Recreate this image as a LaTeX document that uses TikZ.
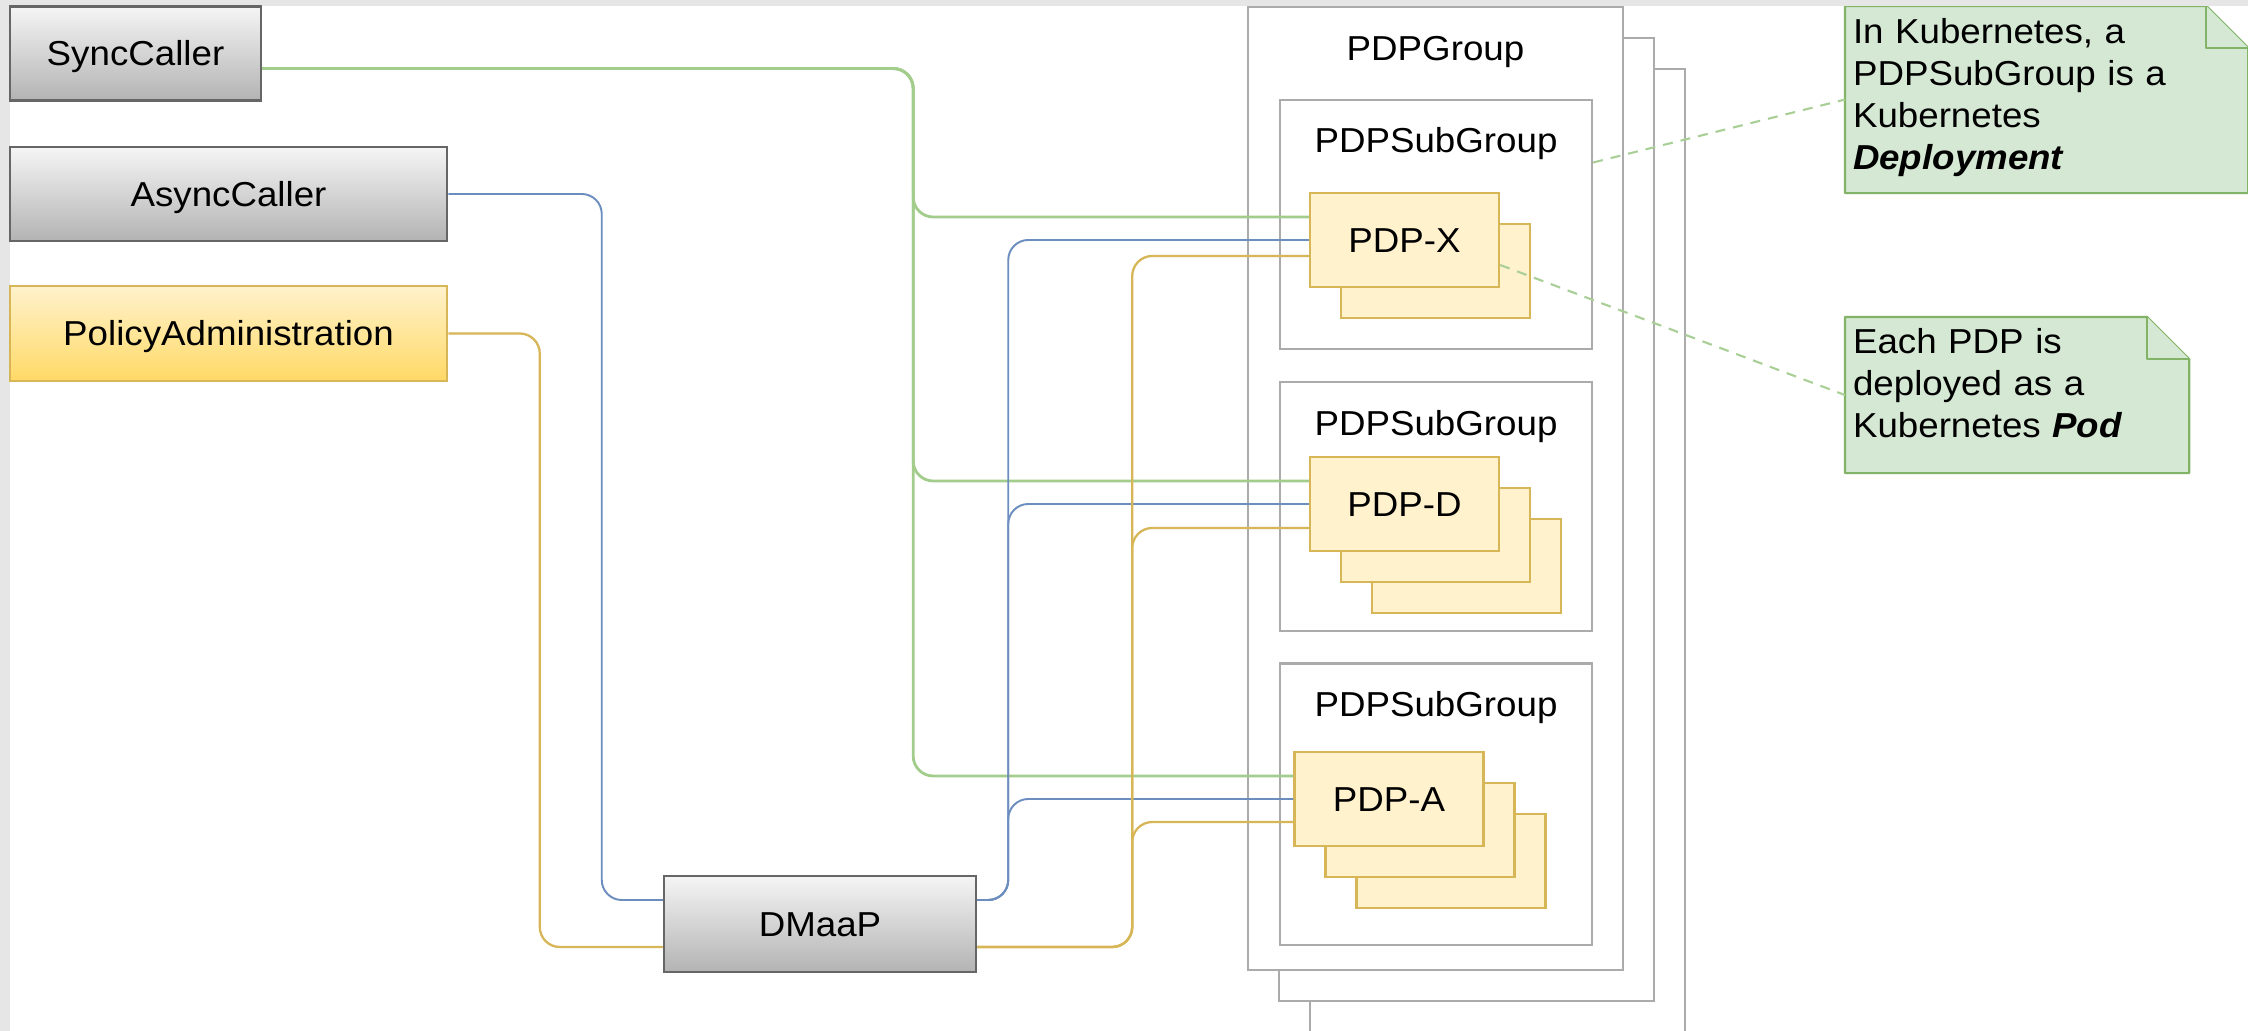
\documentclass[tikz,border=0pt]{standalone}
\usepackage{fontspec}
\setmainfont{Liberation Sans}[FakeStretch=1.06]
\usepackage{xcolor}
\usetikzlibrary{positioning,calc,shadows,backgrounds}

\definecolor{framegrey}{HTML}{E6E6E6}
\definecolor{callertop}{HTML}{F5F5F5}
\definecolor{callerbottom}{HTML}{B3B3B3}
\definecolor{callerline}{HTML}{666666}
\definecolor{admintop}{HTML}{FFF2CC}
\definecolor{adminbottom}{HTML}{FFD966}
\definecolor{adminline}{HTML}{D6B656}
\definecolor{pdpfill}{HTML}{FFF2CC}
\definecolor{pdpline}{HTML}{D6B656}
\definecolor{grpline}{HTML}{ABABAB}
\definecolor{notefill}{HTML}{D5E8D4}
\definecolor{noteline}{HTML}{82B366}
\definecolor{syncgreen}{HTML}{A3CD8C}
\definecolor{asyncblue}{HTML}{6C8EBF}
\definecolor{adminyellow}{HTML}{D6B656}
\definecolor{linkgreen}{HTML}{A9CF96}

\newcommand{\diagfont}{\fontsize{9.85pt}{11.95pt}\selectfont}

\begin{document}
\begin{tikzpicture}[x=0.01cm, y=-0.01cm,
    box/.style={draw, line width=0.65pt, inner sep=0pt, text height=0.24cm, text depth=0pt, font=\diagfont},
    caller/.style={box, draw=callerline, top color=callertop, bottom color=callerbottom, minimum height=0.94cm},
    admin/.style={box, draw=adminline, top color=admintop, bottom color=adminbottom, minimum height=0.95cm},
    pdp/.style={box, draw=pdpline, fill=pdpfill, minimum width=1.89cm, minimum height=0.94cm},
    group/.style={draw=grpline, fill=white, line width=0.6pt, inner sep=0pt, minimum width=3.12cm},
    grpcopy/.style={general shadow={shadow xshift=#1, shadow yshift=-#1, draw=grpline, fill=white, line width=0.6pt}},
    pdpcopy/.style={general shadow={shadow xshift=#1, shadow yshift=-#1, draw=pdpline, fill=pdpfill, line width=0.65pt}},
    lbl/.style={font=\diagfont, inner sep=0pt},
    note/.style={anchor=north west, align=left, inner xsep=0.08cm, inner ysep=0.12cm, outer sep=0pt, font=\diagfont},
    notebox/.style={draw=noteline, fill=notefill, line width=0.6pt, line join=round},
    wire/.style={rounded corners=0.2cm},
    syncwire/.style={wire, draw=syncgreen, line width=0.8pt},
    asyncwire/.style={wire, draw=asyncblue, line width=0.55pt},
    adminwire/.style={wire, draw=adminyellow, line width=0.65pt},
    notelink/.style={draw=linkgreen, line width=0.6pt, dash pattern=on 0.1cm off 0.08cm}]
    \useasboundingbox (0,0) rectangle (2248,1031);

    % grey strip along the top and left
    \fill[framegrey] (0,0) rectangle (2248,6);
    \fill[framegrey] (0,0) rectangle (10,1031);

    % callers and the bus
    \node[caller, minimum width=2.51cm] (sync) at (135.5,53.5) {SyncCaller};
    \node[caller, minimum width=4.37cm] (async) at (228.5,194) {AsyncCaller};
    \node[admin, minimum width=4.37cm] (padmin) at (228.5,333.5) {PolicyAdministration};
    \node[caller, minimum width=3.12cm, minimum height=0.96cm] (dmaap) at (820,924) {DMaaP};

    % PDP group, three subgroups
    \node[group, grpcopy=0.62cm, grpcopy=0.31cm, minimum width=3.75cm, minimum height=9.63cm] (grp) at (1435.5,488.5) {};
    \node[lbl, anchor=base] (grplbl) at ($(grp.north)+(0,55)$) {PDPGroup};
    \node[group, minimum height=2.49cm] (sub1) at (1436,224.5) {};
    \node[group, minimum height=2.49cm] (sub2) [below=0.31cm of sub1] {};
    \node[group, minimum height=2.81cm] (sub3) [below=0.30cm of sub2] {};
    \foreach \s in {sub1,sub2,sub3}
        \node[lbl, anchor=base] (\s-lbl) at ($(\s.north)+(0,54)$) {PDPSubGroup};

    % PDP pods
    \node[pdp, pdpcopy=0.31cm] (pdpx) at (1404.5,240) {PDP-X};
    \node[pdp, pdpcopy=0.62cm, pdpcopy=0.31cm] (pdpd) at (1404.5,504) {PDP-D};
    \node[pdp, pdpcopy=0.62cm, pdpcopy=0.31cm] (pdpa) at (1389,799) {PDP-A};

    % notes
    \node[note, text width=3.87cm, text height=0.25cm, text depth=1.38cm] (note1) at (1845,6)
        {In Kubernetes, a\\PDPSubGroup is a\\Kubernetes\\\textbf{\textit{Deployment}}};
    \node[note, text width=3.28cm, text height=0.24cm, text depth=1.08cm] (note2) at (1845,317)
        {Each PDP is\\deployed as a\\Kubernetes \textbf{\textit{Pod}}};
    \begin{scope}[on background layer]
        \foreach \nt in {note1,note2} {
            \filldraw[notebox] (\nt.south west) -- (\nt.north west) -- ($(\nt.north east)+(-42,0)$)
                -- ($(\nt.north east)+(0,42)$) -- (\nt.south east) -- cycle;
            \filldraw[notebox] ($(\nt.north east)+(-42,0)$) |- ($(\nt.north east)+(0,42)$);
        }
    \end{scope}

    % sync calls go straight to the PDPs
    \foreach \p in {pdpx,pdpd,pdpa}
        \draw[syncwire] ($(sync.east)+(0,15)$) -- ++(651,0) |- ($(\p.west)+(0,-23)$);

    % async calls and admin messages go through DMaaP
    \draw[asyncwire] (async.east) -| ($(dmaap.west)+(-61,-24)$) -- ($(dmaap.west)+(0,-24)$);
    \draw[adminwire] (padmin.east) -| ($(dmaap.west)+(-123,23)$) -- ($(dmaap.west)+(0,23)$);
    \foreach \p in {pdpx,pdpd,pdpa}
        \draw[asyncwire] ($(dmaap.east)+(0,-24)$) -- ++(31,0) |- (\p.west);
    \foreach \p/\dy in {pdpx/16,pdpd/24,pdpa/23}
        \draw[adminwire] ($(dmaap.east)+(0,23)$) -- ++(155,0) |- ($(\p.west)+(0,\dy)$);

    % note links
    \draw[notelink] ($(sub1.east)+(0,-62)$) -- (note1.west);
    \draw[notelink] ($(pdpx.east)+(0,25)$) -- (note2.west);
\end{tikzpicture}
\end{document}
